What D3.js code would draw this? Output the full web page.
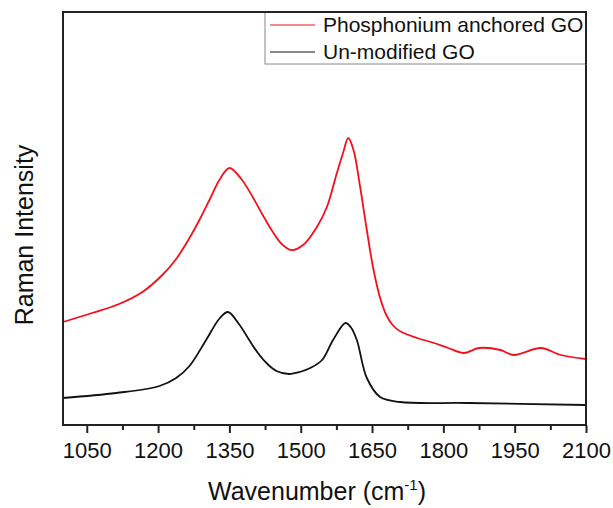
<!DOCTYPE html>
<html>
<head>
<meta charset="utf-8">
<script src="https://cdn.jsdelivr.net/npm/d3@7/dist/d3.min.js"></script>
<style>
  body { margin: 0; background: #fff; }
  svg { display: block; font-family: "Liberation Sans", Arial, sans-serif; }
</style>
</head>
<body>
<svg id="chart" width="613" height="508"></svg>
<script>
// Raman spectra (intensity in arbitrary units)
const seriesNames = ['Phosphonium anchored GO', 'Un-modified GO'];
const seriesColors = ['#f2101c', '#111111'];

const wnPhos = [1000, 1061, 1118, 1167, 1209, 1238, 1266, 1287, 1308, 1329, 1350, 1375, 1399, 1420,
  1440, 1460, 1480, 1505, 1534, 1555, 1576, 1589, 1600, 1611, 1625, 1639, 1652, 1667, 1680, 1695,
  1712, 1745, 1780, 1810, 1843, 1875, 1920, 1948, 2005, 2047, 2100];
const intPhos = [103, 112, 121, 133, 150, 166, 187, 205, 225, 245, 257, 246, 228, 210,
  194, 181, 175, 180, 198, 218, 252, 272, 287, 275, 238, 195, 158, 127, 110, 99,
  93, 87, 82, 77, 72, 77, 75, 70, 77, 70, 66];

const wnGO = [1000, 1112, 1203, 1238, 1266, 1301, 1330, 1347, 1370, 1393, 1410, 1430, 1449, 1475, 1498,
  1520, 1545, 1568, 1594, 1605, 1618, 1639, 1667, 1709, 1850, 2100];
const intGO = [27, 32, 39, 47, 59, 85, 107, 113, 101, 84, 72, 61, 54, 51, 53,
  57, 65, 85, 102, 98, 85, 47, 28, 23, 22, 20];

const xMajor = [1050, 1200, 1350, 1500, 1650, 1800, 1950, 2100];
const xMinor = [1125, 1275, 1425, 1575, 1725, 1875, 2025];

const svg = d3.select('#chart');
const pLeft = 63, pRight = 586, pTop = 12, pBottom = 425;

const x = d3.scaleLinear().domain([1000, 2100]).range([pLeft, pRight]);
const y = d3.scaleLinear().domain([0, 413]).range([pBottom, pTop]);

// minor ticks
svg.append('g')
    .attr('transform', 'translate(0,' + pBottom + ')')
    .call(d3.axisBottom(x).tickValues(xMinor).tickSize(5).tickFormat(''))
    .call(g => g.select('.domain').remove())
    .selectAll('line').attr('stroke', '#222').attr('stroke-width', 2);

// major ticks
let xAxis = svg.append('g')
    .attr('transform', 'translate(0,' + pBottom + ')')
    .call(d3.axisBottom(x).tickValues(xMajor).tickSize(8).tickPadding(9).tickFormat(d3.format('d')));
xAxis.select('.domain').remove();
xAxis.selectAll('line').attr('stroke', '#222').attr('stroke-width', 2);
xAxis.selectAll('text')
    .attr('font-size', 22)
    .attr('font-family', '"Liberation Sans", Arial, sans-serif')
    .attr('fill', '#111');

// spectra
const lineGen = d3.line()
    .x(d => x(d[0]))
    .y(d => y(d[1]))
    .curve(d3.curveCatmullRom.alpha(0.5));

const series = [
  d3.zip(wnPhos, intPhos),
  d3.zip(wnGO, intGO)
];

svg.selectAll('path.spec')
    .data(series)
    .enter()
    .append('path')
    .attr('class', 'spec')
    .attr('fill', 'none')
    .attr('stroke', (d, i) => seriesColors[i])
    .attr('stroke-width', 1.8)
    .attr('stroke-linejoin', 'round')
    .attr('d', lineGen);

// frame
svg.append('rect')
    .attr('x', pLeft).attr('y', pTop)
    .attr('width', pRight - pLeft).attr('height', pBottom - pTop)
    .attr('fill', 'none').attr('stroke', '#222').attr('stroke-width', 2);

// legend
let legend = svg.append('g');
legend.append('rect')
    .attr('x', 265).attr('y', pTop)
    .attr('width', pRight - 265).attr('height', 52)
    .attr('fill', '#fff').attr('stroke', '#888').attr('stroke-width', 1);
legend.append('path')
    .attr('d', 'M' + pLeft + ',' + pTop + 'H' + pRight + 'V64')
    .attr('fill', 'none').attr('stroke', '#222').attr('stroke-width', 2);

let rows = legend.selectAll('g.row')
    .data(seriesNames)
    .enter()
    .append('g')
    .attr('class', 'row')
    .attr('transform', (d, i) => 'translate(0,' + (25 + i * 27) + ')');
rows.append('line')
    .attr('x1', 270).attr('x2', 315)
    .attr('stroke', (d, i) => seriesColors[i])
    .attr('stroke-width', 1);
rows.append('text')
    .attr('x', 323).attr('y', 7)
    .attr('font-size', 21)
    .attr('fill', '#111')
    .text(d => d);

// axis titles
let xTitle = svg.append('text')
    .attr('x', 208).attr('y', 500)
    .attr('font-size', 25)
    .attr('fill', '#111');
xTitle.append('tspan').text('Wavenumber (cm');
xTitle.append('tspan').attr('font-size', 15).attr('dy', -10).text('-1');
xTitle.append('tspan').attr('dy', 10).text(')');

svg.append('text')
    .attr('transform', 'translate(33,235) rotate(-90)')
    .attr('text-anchor', 'middle')
    .attr('font-size', 25)
    .attr('fill', '#111')
    .text('Raman Intensity');
</script>
</body>
</html>
